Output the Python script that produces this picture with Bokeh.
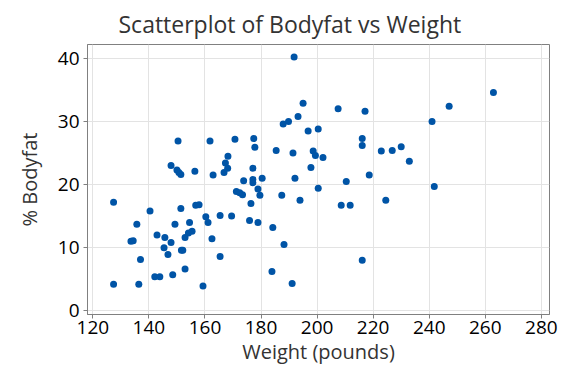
from bokeh.plotting import figure
from bokeh.models import Range1d, FixedTicker
from bokeh.embed import file_html
from bokeh.resources import INLINE

weight = [127.4, 127.4, 133.6, 134.4, 135.7, 136.4, 137.0, 140.4, 142.1, 143.9,
          142.9, 145.7, 145.4, 146.8, 147.9, 147.9, 148.5, 149.3, 150.0, 150.7,
          151.4, 150.4, 151.4, 151.6, 152.1, 152.9, 152.9, 154.1, 155.4, 154.5,
          156.4, 156.7, 157.9, 159.3, 160.3, 161.1, 161.8, 162.5, 162.9, 165.4,
          165.4, 166.8, 167.3, 168.1, 168.2, 169.5, 170.7, 171.2, 172.4, 173.4,
          173.8, 175.9, 176.4, 177.1, 177.1, 177.1, 177.4, 177.8, 178.9, 179.6,
          178.9, 180.4, 183.9, 184.2, 185.4, 187.4, 187.9, 188.2, 189.8, 191.1,
          191.4, 191.8, 192.1, 193.2, 193.9, 195.0, 196.8, 197.8, 198.6, 199.4,
          200.4, 200.4, 202.1, 207.5, 208.6, 210.4, 211.8, 216.1, 216.1, 216.1,
          217.1, 218.6, 222.9, 224.5, 226.8, 230.0, 232.9, 241.0, 241.8, 247.1,
          262.9]
bodyfat = [17.2, 4.2, 11.0, 11.1, 13.7, 4.2, 8.1, 15.8, 5.4, 5.4,
           12.0, 11.6, 10.0, 8.9, 10.8, 23.0, 5.7, 13.7, 22.3, 21.9,
           21.6, 26.9, 16.2, 9.6, 9.6, 11.6, 6.6, 12.3, 12.6, 14.0,
           22.1, 16.7, 16.8, 3.9, 14.9, 14.0, 26.9, 11.4, 21.5, 8.6,
           15.1, 21.9, 23.4, 22.6, 24.5, 15.0, 27.2, 18.9, 18.7, 18.4,
           20.6, 14.3, 17.0, 22.6, 20.8, 20.3, 27.3, 25.9, 19.3, 18.3,
           14.0, 21.0, 6.2, 13.2, 25.4, 18.3, 29.6, 10.5, 30.0, 4.3,
           25.0, 40.2, 21.0, 30.8, 17.5, 32.9, 28.5, 22.7, 25.3, 24.6,
           28.8, 19.4, 24.3, 32.0, 16.7, 20.5, 16.7, 27.3, 26.2, 8.0,
           31.6, 21.5, 25.3, 17.5, 25.4, 26.0, 23.7, 30.0, 19.7, 32.4,
           34.6]
x_ticks = [120, 140, 160, 180, 200, 220, 240, 260, 280]
y_ticks = [0, 10, 20, 30, 40]

FONT = "Open Sans"

p = figure(width=560, height=368, output_backend="svg", toolbar_location=None,
           x_range=Range1d(118.1, 282.9), y_range=Range1d(-0.6, 42.2),
           min_border_left=87, min_border_right=11, min_border_top=44,
           min_border_bottom=54, title="Scatterplot of Bodyfat vs Weight")

p.title.text_font = FONT
p.title.text_font_size = "23px"
p.title.text_font_style = "normal"
p.title.text_color = "#333333"
p.title.align = "left"
p.title.offset = 31

p.background_fill_color = "white"
p.border_fill_color = "white"
p.outline_line_color = "#808080"
p.outline_line_width = 1

p.xaxis.ticker = FixedTicker(ticks=x_ticks)
p.yaxis.ticker = FixedTicker(ticks=y_ticks)
p.xaxis.axis_label = "Weight (pounds)"
p.yaxis.axis_label = "% Bodyfat"
for ax in (p.xaxis, p.yaxis):
    ax.axis_line_color = "#808080"
    ax.major_tick_line_color = "#808080"
    ax.major_tick_in = 0
    ax.major_tick_out = 4
    ax.minor_tick_line_color = None
    ax.major_label_text_font = FONT
    ax.major_label_text_font_size = "19px"
    ax.major_label_text_color = "black"
    ax.axis_label_text_font = FONT
    ax.axis_label_text_font_size = "20px"
    ax.axis_label_text_font_style = "normal"
    ax.axis_label_text_color = "#333333"
p.xaxis.major_label_standoff = 2
p.xaxis.axis_label_standoff = 1
p.yaxis.major_label_standoff = 4
p.yaxis.axis_label_standoff = 12

p.grid.grid_line_color = "#e3e3e3"
p.grid.grid_line_width = 1

p.scatter(weight, bodyfat, size=7, marker="circle", fill_color="#0054A6",
          line_color=None)

open("out.html", "w").write(file_html(p, INLINE))
